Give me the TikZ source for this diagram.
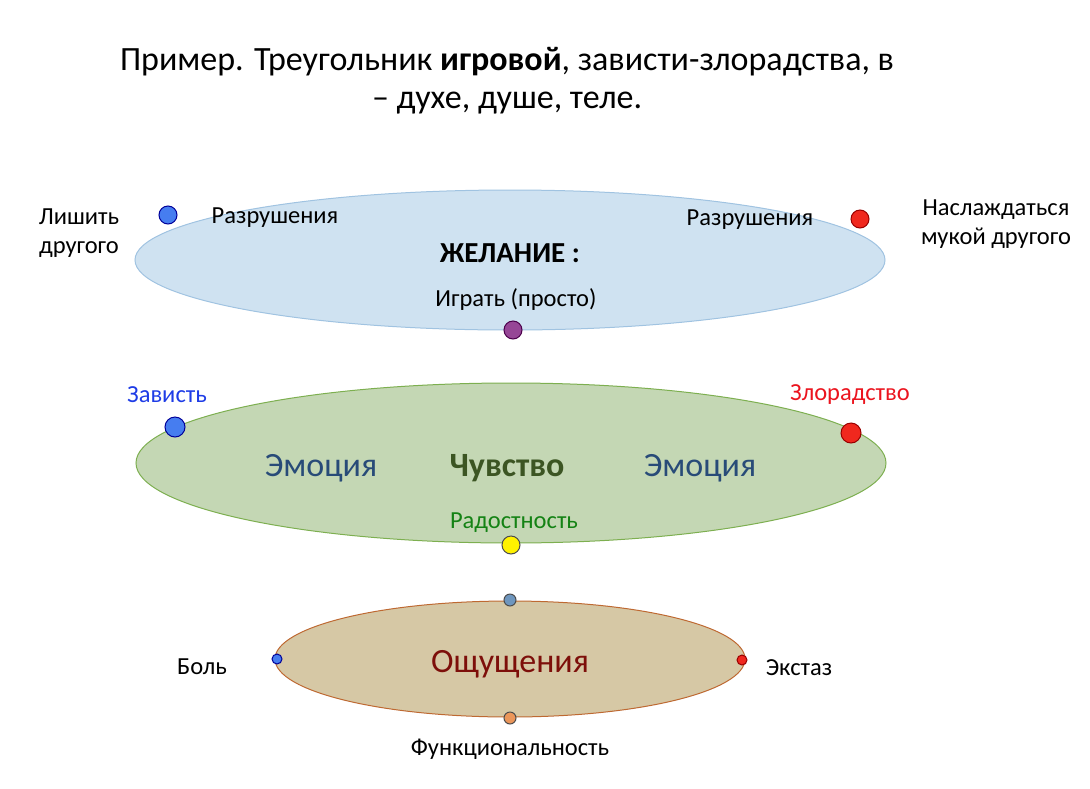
\documentclass[tikz,border=0pt]{standalone}
\usepackage{fontspec}
\setmainfont{Carlito}
\begin{document}
\begin{tikzpicture}[x=1pt,y=-1pt,
 lab/.style={font=\fontsize{24.5}{29}\selectfont,align=center},
 big/.style={font=\fontsize{34}{38}\selectfont},
 dot/.style={circle,draw=#1!60!black,line width=1pt,inner sep=0pt}]
\useasboundingbox (0,0) rectangle (1090,788);
\node[big] (t1) at (507,62) {Пример. Треугольник \textbf{игровой}, зависти-злорадства, в};
\node[big] (t2) at (507,103) {– духе, душе, теле.};
\fill[fill={rgb,255:red,207;green,226;blue,241},draw={rgb,255:red,160;green,195;blue,225},line width=1pt] (510,260) ellipse [x radius=375,y radius=70];
\fill[fill={rgb,255:red,196;green,215;blue,180},draw={rgb,255:red,125;green,175;blue,80},line width=1pt] (511,463) ellipse [x radius=375,y radius=80];
\fill[fill={rgb,255:red,214;green,200;blue,165},draw={rgb,255:red,190;green,105;blue,50},line width=1pt] (510,659) ellipse [x radius=235,y radius=58];
\node[dot=blue,fill={rgb,255:red,70;green,125;blue,240},minimum size=18] (d1) at (168,215) {};
\node[dot=red,fill={rgb,255:red,240;green,40;blue,30},minimum size=18] (d2) at (860,219) {};
\node[dot=violet,fill={rgb,255:red,150;green,70;blue,150},minimum size=18] (d3) at (513,330) {};
\node[dot=blue,fill={rgb,255:red,70;green,125;blue,240},minimum size=20] (d4) at (175,427) {};
\node[dot=red,fill={rgb,255:red,240;green,40;blue,30},minimum size=20] (d5) at (851,433) {};
\node[dot=gray,fill=yellow,minimum size=18] (d6) at (511,545) {};
\node[dot=gray,fill={rgb,255:red,110;green,150;blue,190},minimum size=12] (d7) at (510,600) {};
\node[dot=blue,fill={rgb,255:red,70;green,125;blue,240},minimum size=10] (d8) at (277,659) {};
\node[dot=red,fill={rgb,255:red,240;green,40;blue,30},minimum size=10] (d9) at (742,660) {};
\node[dot=gray,fill={rgb,255:red,235;green,150;blue,90},minimum size=12] (d10) at (510,718) {};
\node[lab] (l1) at (79,233) {Лишить\\другого};
\node[lab] (l2) at (275,218) {Разрушения};
\node[lab] (l3) at (750,220) {Разрушения};
\node[lab] (l4) at (996,224) {Наслаждаться\\мукой другого};
\node[lab,font=\fontsize{29}{32}\selectfont\bfseries] (l5) at (510,253) {ЖЕЛАНИЕ :};
\node[lab] (l6) at (516,300) {Играть (просто)};
\node[lab,text={rgb,255:red,30;green,60;blue,230}] (l7) at (167,395) {Зависть};
\node[lab,text={rgb,255:red,235;green,20;blue,30}] (l8) at (850,395) {Злорадство};
\node[lab,font=\fontsize{34}{38}\selectfont,text={rgb,255:red,40;green,75;blue,120}] (l9) at (321,468) {Эмоция};
\node[lab,font=\fontsize{34}{38}\selectfont\bfseries,text={rgb,255:red,60;green,85;blue,35}] (l10) at (507,468) {Чувство};
\node[lab,font=\fontsize{34}{38}\selectfont,text={rgb,255:red,40;green,75;blue,120}] (l11) at (700,468) {Эмоция};
\node[lab,text={rgb,255:red,20;green,130;blue,20}] (l12) at (514,523) {Радостность};
\node[lab,font=\fontsize{34}{38}\selectfont,text={rgb,255:red,125;green,15;blue,10}] (l13) at (510,664) {Ощущения};
\node[lab] (l14) at (202,667) {Боль};
\node[lab] (l15) at (799,668) {Экстаз};
\node[lab] (l16) at (510,749) {Функциональность};
\end{tikzpicture}
\end{document}
